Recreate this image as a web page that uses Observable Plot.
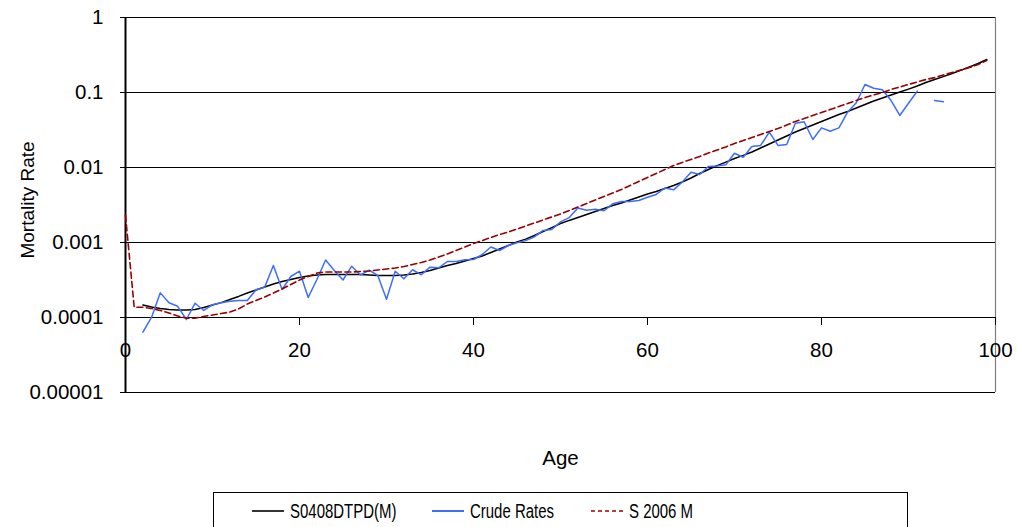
<!DOCTYPE html>
<html>
<head>
<meta charset="utf-8">
<script src="https://cdn.jsdelivr.net/npm/d3@7"></script>
<script src="https://cdn.jsdelivr.net/npm/@observablehq/plot@0.6"></script>
<style>
  body { margin: 0; background: #fff; font-family: "Liberation Sans", Arial, sans-serif; width: 1017px; height: 527px; overflow: hidden; }
  #chart svg { display: block; }
  #legend { position: relative; margin-left: 213px; margin-top: 7px; width: 695px; height: 44px; border: 1px solid #000; box-sizing: border-box; }
  .item { position: absolute; top: 0; height: 36px; display: flex; align-items: center; }
  .item svg { display: block; }
  .item span { display: inline-block; font-size: 20.5px; color: #000; transform: scaleX(0.73); transform-origin: left center; white-space: nowrap; margin-left: 6px; }
</style>
</head>
<body>
<div id="chart"></div>
<div id="legend"></div>
<script>
// Age index for the graduated tables (0..99) and crude rates (0..94)
const ages = d3.range(0, 100);
const crudeAges = d3.range(0, 95);

// S0408DTPD(M) graduated rates, ages 0..99 (no values below age 2)
const s0408 = [
  null, null, 0.000147, 0.000138, 0.000132, 0.000128, 0.000126, 0.000126, 0.000128, 0.000136,
  0.000147, 0.000158, 0.000174, 0.000191, 0.000212, 0.000233, 0.000255, 0.00028, 0.000302, 0.000321,
  0.000341, 0.000358, 0.000369, 0.000374, 0.000374, 0.000374, 0.000374, 0.000374, 0.000369, 0.000363,
  0.000363, 0.000363, 0.000369, 0.00038, 0.000398, 0.000423, 0.000457, 0.000494, 0.000525, 0.000567,
  0.000612, 0.000661, 0.000736, 0.000819, 0.000912, 0.00102, 0.00111, 0.00124, 0.0014, 0.00158,
  0.00179, 0.00197, 0.00215, 0.00236, 0.00259, 0.00284, 0.00311, 0.00336, 0.00369, 0.00404,
  0.00443, 0.00479, 0.00525, 0.00575, 0.00641, 0.00724, 0.00832, 0.0094, 0.0106, 0.0118,
  0.0132, 0.0145, 0.0161, 0.0182, 0.0206, 0.0233, 0.0263, 0.0297, 0.0331, 0.0369,
  0.0411, 0.0457, 0.0509, 0.0558, 0.0621, 0.0692, 0.077, 0.0845, 0.0926, 0.1015,
  0.111, 0.122, 0.136, 0.149, 0.163, 0.179, 0.197, 0.219, 0.244, 0.275
];

// Crude rates, ages 0..94 (no exposure at 0-1 and 92)
const crude = [
  null, null, 0.0000637, 0.000101, 0.000213, 0.000157, 0.000141, 0.000094, 0.000155, 0.000124,
  0.000148, 0.000157, 0.000165, 0.000169, 0.000169, 0.000234, 0.000254, 0.000494, 0.000236, 0.000352,
  0.000414, 0.000185, 0.000321, 0.000584, 0.000423, 0.000316, 0.000483, 0.000369, 0.000427, 0.000363,
  0.000175, 0.000414, 0.000328, 0.000433, 0.000371, 0.000469, 0.00046, 0.000558, 0.000558, 0.000588,
  0.000593, 0.000692, 0.000871, 0.000782, 0.000912, 0.00099, 0.00106, 0.00119, 0.00145, 0.00149,
  0.00188, 0.00215, 0.00288, 0.0027, 0.00277, 0.00265, 0.00328, 0.00352, 0.00352, 0.00363,
  0.00402, 0.00437, 0.00533, 0.00504, 0.00641, 0.00866, 0.00807, 0.0103, 0.0105, 0.0109,
  0.0155, 0.0137, 0.0191, 0.0197, 0.0296, 0.0197, 0.0203, 0.039, 0.0407, 0.0236,
  0.0338, 0.0305, 0.0338, 0.0546, 0.0729, 0.128, 0.114, 0.109, 0.0782, 0.0494,
  0.072, 0.104, null, 0.0782, 0.0752
];

// S 2006 M table rates, ages 0..99
const s2006M = [
  0.0023, 0.000137, 0.000137, 0.000132, 0.000124, 0.000115, 0.000105, 0.000098, 0.000098, 0.000103,
  0.000108, 0.000113, 0.000118, 0.00013, 0.000151, 0.000169, 0.000188, 0.000212, 0.00024, 0.000275,
  0.000316, 0.000352, 0.000392, 0.000404, 0.000404, 0.000404, 0.000404, 0.000411, 0.000417, 0.00043,
  0.000443, 0.000457, 0.000479, 0.000509, 0.000541, 0.000584, 0.000641, 0.000703, 0.000782, 0.000871,
  0.00097, 0.00106, 0.00117, 0.00128, 0.00138, 0.00151, 0.00166, 0.00182, 0.002, 0.00219,
  0.0024, 0.00267, 0.00297, 0.00331, 0.00369, 0.00411, 0.00457, 0.00509, 0.00575, 0.00651,
  0.00736, 0.00832, 0.0094, 0.0106, 0.0117, 0.0128, 0.014, 0.0156, 0.0171, 0.0188,
  0.0209, 0.0229, 0.0251, 0.0275, 0.0302, 0.0331, 0.0369, 0.0411, 0.045, 0.0494,
  0.0541, 0.0593, 0.0651, 0.0714, 0.0782, 0.0858, 0.0926, 0.1, 0.11, 0.118,
  0.128, 0.138, 0.149, 0.158, 0.171, 0.185, 0.2, 0.215, 0.236, 0.267
];

const xTicks = [0, 20, 40, 60, 80, 100];
const yTicks = [1, 0.1, 0.01, 0.001, 0.0001, 0.00001];
const yTickLabels = ["1", "0.1", "0.01", "0.001", "0.0001", "0.00001"];

const seriesNames = ["S0408DTPD(M)", "Crude Rates", "S 2006 M"];
const seriesColors = ["#000000", "#3d6dff", "#990000"];
const seriesDash = [null, null, "6,3.5"];

const chart = Plot.plot({
  width: 1017,
  height: 485,
  marginLeft: 125,
  marginRight: 22,
  marginTop: 17,
  marginBottom: 93,
  style: { fontFamily: '"Liberation Sans", Arial, sans-serif', fontSize: "20.5px", background: "#fff", color: "#000", overflow: "visible" },
  x: { domain: [0, 100] },
  y: { type: "log", domain: [0.00001, 1] },
  marks: [
    // decade gridlines (the 0.0001 line doubles as the age axis)
    Plot.ruleY(yTicks, { stroke: "#000", strokeWidth: 1.2 }),
    // plot-area border on the right
    Plot.ruleX([100], { stroke: "#808080", strokeWidth: 1.2 }),
    Plot.axisY({ ticks: yTicks, tickFormat: (d) => yTickLabels[yTicks.indexOf(d)], tickSize: 5, tickPadding: 17, label: null }),
    Plot.axisX({ ticks: xTicks, tickSize: 8, tickPadding: 17, dy: -75, label: null }),
    Plot.ruleX([0], { stroke: "#000", strokeWidth: 2 }),
    Plot.line(ages, { x: (a) => a, y: (a) => s0408[a], stroke: seriesColors[0], strokeWidth: 1.5 }),
    Plot.line(crudeAges, { x: (a) => a, y: (a) => crude[a], stroke: seriesColors[1], strokeWidth: 1.5 }),
    Plot.line(ages, { x: (a) => a, y: (a) => s2006M[a], stroke: seriesColors[2], strokeWidth: 1.6, strokeDasharray: seriesDash[2] }),
    Plot.text(["Mortality Rate"], { frameAnchor: "left", textAnchor: "middle", dx: -98, dy: -5, rotate: -90, fontSize: 19 }),
    Plot.text(["Age"], { frameAnchor: "bottom", textAnchor: "middle", dy: 72, fontSize: 20.5 })
  ]
});
document.getElementById("chart").appendChild(chart);

// Legend row beneath the plot
const legend = document.getElementById("legend");
const itemLefts = [38, 218, 377];
seriesNames.forEach((name, i) => {
  const item = document.createElement("div");
  item.className = "item";
  item.style.left = itemLefts[i] + "px";
  const sw = d3.create("svg").attr("width", 32).attr("height", 6);
  sw.append("line")
    .attr("x1", 0).attr("x2", 32).attr("y1", 3).attr("y2", 3)
    .attr("stroke", seriesColors[i])
    .attr("stroke-width", i === 1 ? 2 : 1.6)
    .attr("stroke-dasharray", seriesDash[i] ? "4,3" : null);
  item.appendChild(sw.node());
  const label = document.createElement("span");
  label.textContent = name;
  item.appendChild(label);
  legend.appendChild(item);
});
</script>
</body>
</html>
